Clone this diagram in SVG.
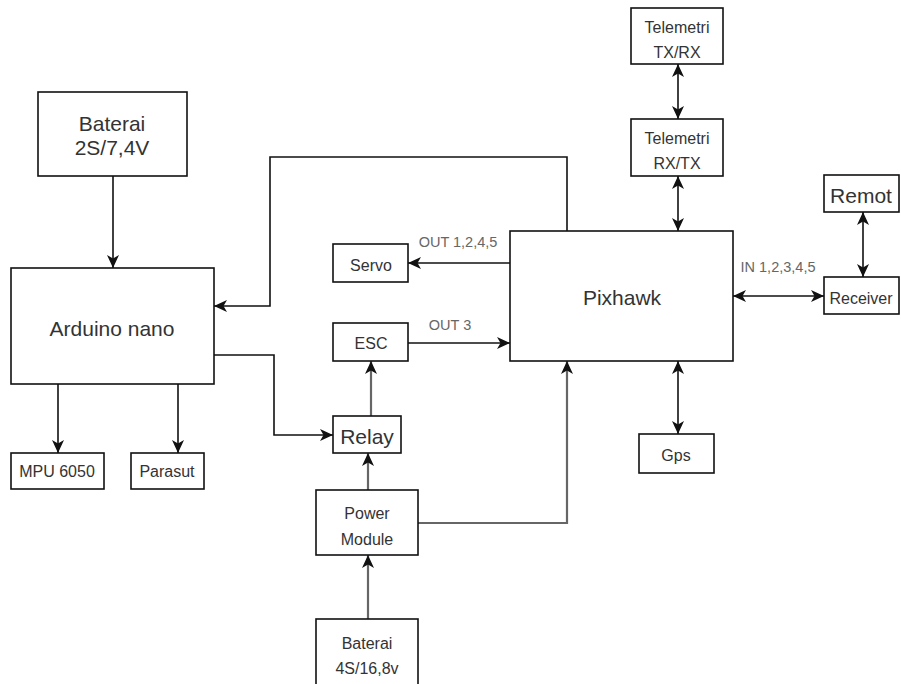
<svg xmlns="http://www.w3.org/2000/svg" width="901" height="684" viewBox="0 0 901 684">
<style>
.box{fill:#fff;stroke:#111;stroke-width:1.6}
.t{font-family:"Liberation Sans",Arial,sans-serif;fill:#333;text-anchor:middle;dominant-baseline:central}
.big{font-size:21px}
.sm{font-size:16px}
.lbl{font-family:"Liberation Sans",Arial,sans-serif;fill:#666;font-size:14.5px;text-anchor:middle;dominant-baseline:central}
.c{fill:none;stroke:#111;stroke-width:1.6}
.g{fill:none;stroke:#666;stroke-width:2.2}
</style>
<defs>
<marker id="a" markerUnits="userSpaceOnUse" markerWidth="14" markerHeight="12" refX="13" refY="6" orient="auto">
<path d="M0,0 L13,6 L0,12 L3.5,6 z" fill="#111"/>
</marker>
<marker id="s" markerUnits="userSpaceOnUse" markerWidth="14" markerHeight="12" refX="13" refY="6" orient="auto-start-reverse">
<path d="M0,0 L13,6 L0,12 L3.5,6 z" fill="#111"/>
</marker>
</defs>
<rect width="901" height="684" fill="#fff"/>
<g id="connectors">
<path class="c" d="M113,176 V268" marker-end="url(#a)"/>
<path class="c" d="M567,231 V157 H270 V306 H214" marker-end="url(#a)"/>
<path class="c" d="M214,355 H274 V435 H333" marker-end="url(#a)"/>
<path class="c" d="M58,384 V453" marker-end="url(#a)"/>
<path class="c" d="M178,384 V453" marker-end="url(#a)"/>
<path class="c" d="M510,263 H408" marker-end="url(#a)"/>
<path class="c" d="M408,343 H510" marker-end="url(#a)"/>
<path class="g" d="M371,416 V361" marker-end="url(#a)"/>
<path class="g" d="M368,490 V453" marker-end="url(#a)"/>
<path class="g" d="M368,619 V555" marker-end="url(#a)"/>
<path class="g" d="M418,523 H567 V361" marker-end="url(#a)"/>
<path class="c" d="M678,64 V119" marker-start="url(#s)" marker-end="url(#s)"/>
<path class="c" d="M678,176 V231" marker-start="url(#s)" marker-end="url(#s)"/>
<path class="c" d="M678,361 V434" marker-start="url(#s)" marker-end="url(#s)"/>
<path class="c" d="M733,296 H824" marker-start="url(#s)" marker-end="url(#s)"/>
<path class="c" d="M863,212 V277" marker-start="url(#s)" marker-end="url(#s)"/>
<text class="lbl" x="458" y="242">OUT 1,2,4,5</text>
<text class="lbl" x="450" y="325">OUT 3</text>
<text class="lbl" x="778" y="267">IN 1,2,3,4,5</text>
</g>
<g id="baterai2s"><rect class="box" x="38" y="92" width="149" height="84"/><text class="t big" x="112" y="123">Baterai</text><text class="t big" x="112" y="147">2S/7,4V</text></g>
<g id="arduino"><rect class="box" x="11" y="268" width="203" height="116"/><text class="t big" x="112" y="328">Arduino nano</text></g>
<g id="mpu"><rect class="box" x="11" y="453" width="93" height="36"/><text class="t sm" x="57" y="471">MPU 6050</text></g>
<g id="parasut"><rect class="box" x="131" y="453" width="73" height="36"/><text class="t sm" x="167" y="471">Parasut</text></g>
<g id="servo"><rect class="box" x="333" y="244" width="75" height="38"/><text class="t sm" x="371" y="265">Servo</text></g>
<g id="esc"><rect class="box" x="333" y="323" width="75" height="38"/><text class="t sm" x="371" y="343">ESC</text></g>
<g id="relay"><rect class="box" x="333" y="416" width="68" height="37"/><text class="t big" x="367" y="436">Relay</text></g>
<g id="power"><rect class="box" x="316" y="490" width="102" height="65"/><text class="t sm" x="367" y="513">Power</text><text class="t sm" x="367" y="539">Module</text></g>
<g id="baterai4s"><rect class="box" x="316" y="619" width="102" height="72"/><text class="t sm" x="367" y="643">Baterai</text><text class="t sm" x="367" y="668">4S/16,8v</text></g>
<g id="pixhawk"><rect class="box" x="510" y="231" width="223" height="130"/><text class="t big" x="622" y="297">Pixhawk</text></g>
<g id="teltx"><rect class="box" x="631" y="8" width="92" height="56"/><text class="t sm" x="677" y="27">Telemetri</text><text class="t sm" x="677" y="52">TX/RX</text></g>
<g id="telrx"><rect class="box" x="631" y="119" width="92" height="57"/><text class="t sm" x="677" y="138">Telemetri</text><text class="t sm" x="677" y="163">RX/TX</text></g>
<g id="remot"><rect class="box" x="824" y="175" width="75" height="37"/><text class="t big" x="861" y="195">Remot</text></g>
<g id="receiver"><rect class="box" x="824" y="277" width="75" height="37"/><text class="t sm" x="861" y="298">Receiver</text></g>
<g id="gps"><rect class="box" x="639" y="434" width="75" height="39"/><text class="t sm" x="676" y="455">Gps</text></g>
</svg>
